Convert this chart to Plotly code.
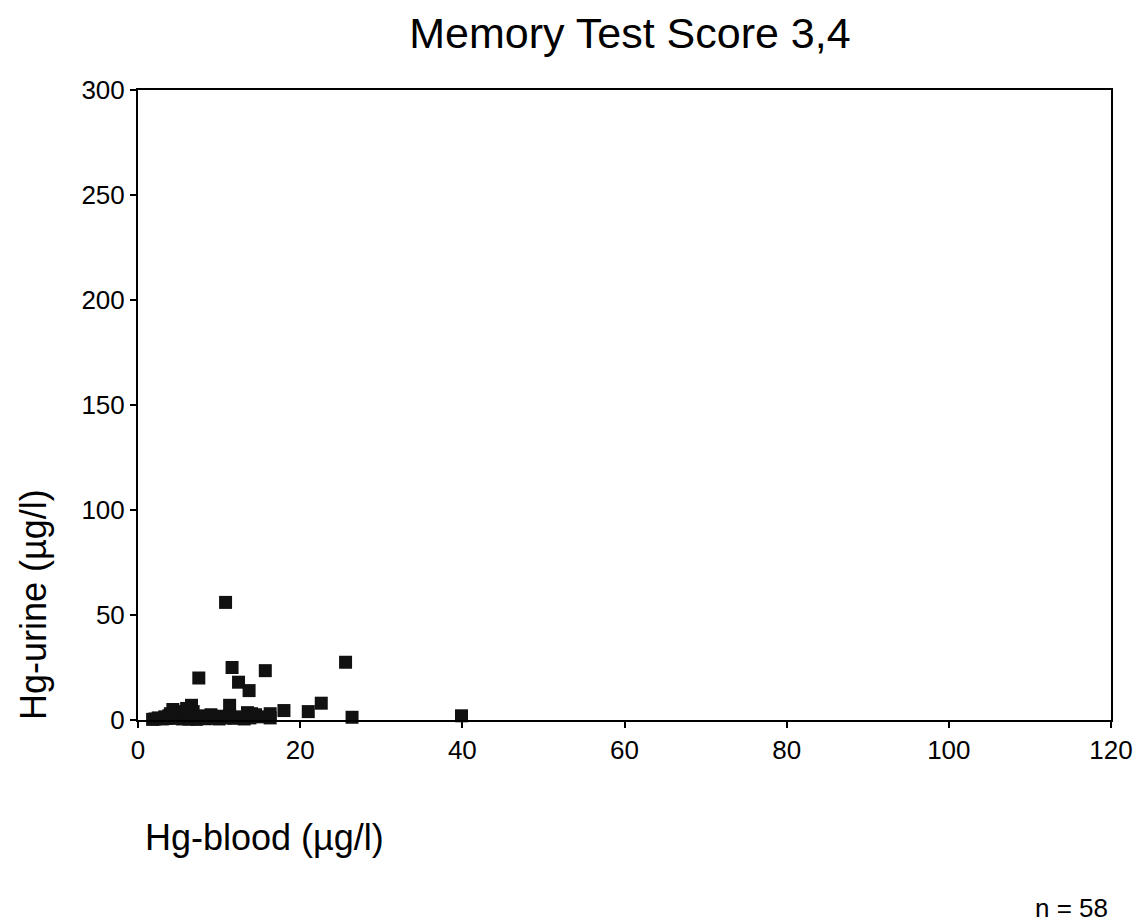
import plotly.graph_objects as go

hg_blood = [10.8, 11.6, 7.5, 12.4, 13.7, 15.7, 25.6, 22.6, 21.0, 18.0, 16.3, 16.3,
            13.5, 14.0, 13.1, 11.3, 11.3, 26.4, 39.9, 6.6, 4.3, 5.0, 2.1,
            1.8, 2.5, 3.0, 3.3, 3.8, 4.0, 4.5, 4.8, 5.2, 5.5, 5.8, 6.0, 6.3, 6.5,
            6.8, 7.0, 7.2, 7.5, 8.0, 8.3, 8.8, 9.2, 9.6, 10.0, 10.4, 10.8, 11.8,
            12.5, 13.8, 15.0, 14.5, 6.0, 4.0, 3.5, 9.0]
hg_urine = [56.0, 25.0, 20.0, 18.0, 14.0, 23.5, 27.5, 8.0, 4.0, 4.5, 3.0, 1.0,
            3.5, 3.0, 0.5, 7.0, 2.0, 1.3, 2.0, 7.0, 5.0, 4.0, 0.5,
            0.3, 1.0, 0.5, 1.5, 2.0, 3.0, 0.8, 2.5, 1.2, 0.5, 3.0, 1.8, 0.4, 2.2,
            4.0, 1.0, 0.3, 2.0, 1.2, 0.6, 1.5, 0.8, 1.2, 0.5, 1.8, 1.0, 0.8,
            1.5, 1.0, 1.5, 2.5, 5.5, 1.0, 0.8, 2.5]

x_ticks = [0, 20, 40, 60, 80, 100, 120]
y_ticks = [0, 50, 100, 150, 200, 250, 300]

FONT = "Liberation Sans, Arial, sans-serif"

fig = go.Figure()
fig.add_trace(go.Scatter(
    x=hg_blood, y=hg_urine, mode="markers", cliponaxis=False,
    marker=dict(symbol="square", size=13, color="#111111",
                line=dict(width=0)),
    showlegend=False,
))

fig.update_layout(
    width=1137, height=914,
    margin=dict(l=130, r=29, t=82, b=202),
    paper_bgcolor="white", plot_bgcolor="white",
    font=dict(family=FONT, color="black"),
    title=dict(text="Memory Test Score 3,4", x=0.547, xanchor="center",
               y=0.9725, yanchor="middle", font=dict(size=43, family=FONT)),
    xaxis=dict(range=[0, 120], tickvals=x_ticks, showgrid=False, zeroline=False,
               showline=True, linecolor="black", linewidth=2, mirror=True,
               ticks="outside", ticklen=6, tickwidth=2, tickcolor="black",
               tickfont=dict(size=26)),
    yaxis=dict(range=[0, 300], tickvals=y_ticks, showgrid=False, zeroline=False,
               showline=True, linecolor="black", linewidth=2, mirror=True,
               ticks="outside", ticklen=6, tickwidth=2, tickcolor="black",
               tickfont=dict(size=26)),
    annotations=[
        dict(text="Hg-urine (µg/l)", xref="paper", yref="paper",
             x=-0.108, y=0.184, textangle=-90, showarrow=False,
             xanchor="center", yanchor="middle", font=dict(size=36)),
        dict(text="Hg-blood (µg/l)", xref="paper", yref="paper",
             x=0.005, y=-0.186, showarrow=False,
             xanchor="left", yanchor="middle", font=dict(size=36)),
        dict(text="n = 58", xref="paper", yref="paper",
             x=0.999, y=-0.298, showarrow=False,
             xanchor="right", yanchor="middle", font=dict(size=26)),
    ],
)

fig.write_html("out.html")
